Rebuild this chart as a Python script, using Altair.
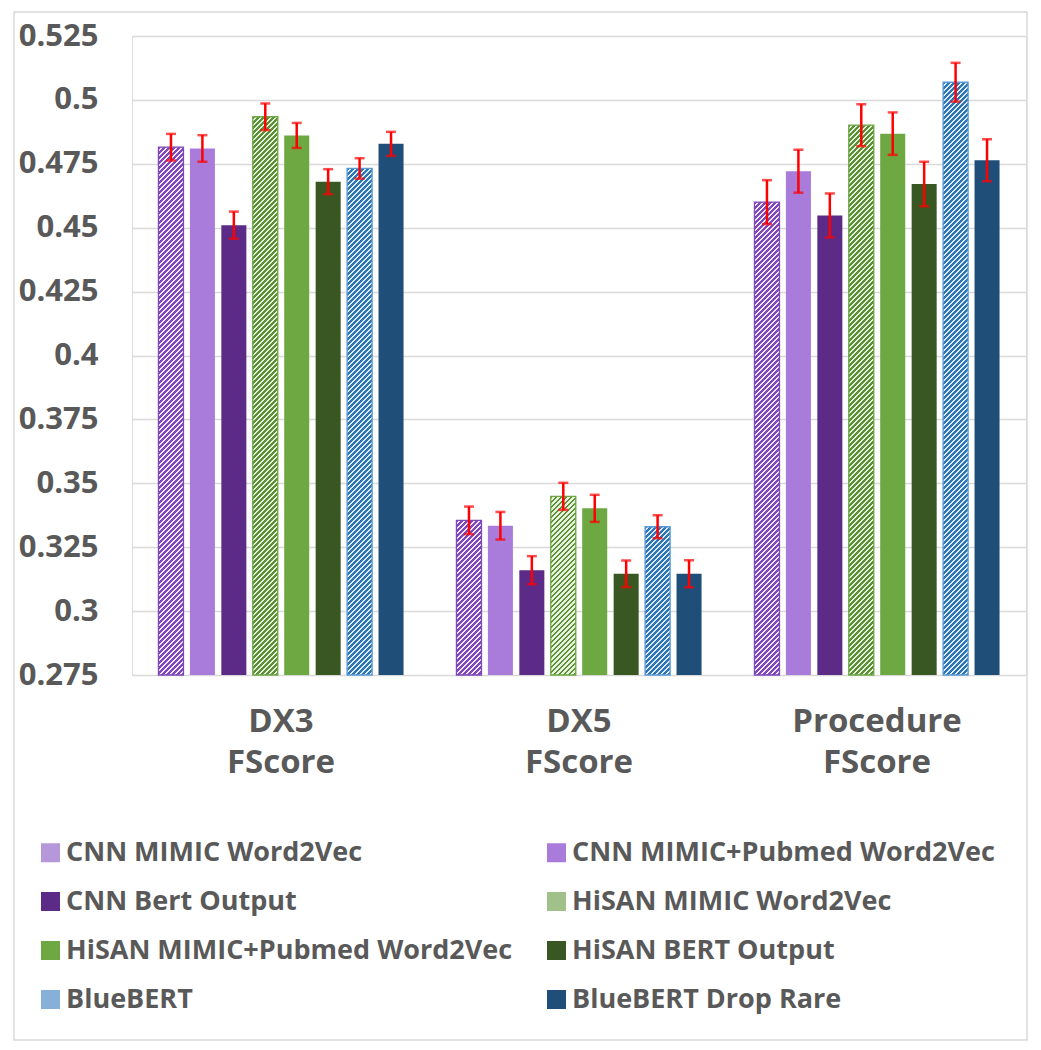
import altair as alt
import pandas as pd

# ---------------- data ----------------
groups = ["DX3 FScore", "DX5 FScore", "Procedure FScore"]
series = [
    "CNN MIMIC Word2Vec", "CNN MIMIC+Pubmed Word2Vec", "CNN Bert Output",
    "HiSAN MIMIC Word2Vec", "HiSAN MIMIC+Pubmed Word2Vec", "HiSAN BERT Output",
    "BlueBERT", "BlueBERT Drop Rare",
]
dx3 = [0.4815, 0.4810, 0.4510, 0.4934, 0.4861, 0.4680, 0.4732, 0.4828]
dx3_err = [0.0052, 0.0052, 0.0053, 0.0052, 0.0049, 0.0049, 0.0040, 0.0047]
dx5 = [0.3355, 0.3334, 0.3160, 0.3449, 0.3402, 0.3146, 0.3330, 0.3146]
dx5_err = [0.0054, 0.0054, 0.0055, 0.0053, 0.0053, 0.0052, 0.0045, 0.0053]
proc = [0.4600, 0.4721, 0.4548, 0.4901, 0.4868, 0.4671, 0.5069, 0.4764]
proc_err = [0.0086, 0.0084, 0.0086, 0.0082, 0.0083, 0.0087, 0.0076, 0.0082]

y_ticks = [0.275, 0.3, 0.325, 0.35, 0.375, 0.4, 0.425, 0.45, 0.475, 0.5, 0.525]

# legend / base colours (hatched series use their average tone)
colors = ["#B697DA", "#A97BDA", "#5C2A87", "#A0C18A",
          "#6DA843", "#385723", "#86B0D7", "#1F4E79"]
# hatch styles: series -> (stripe colour, background colour, border colour)
hatch = {
    "CNN MIMIC Word2Vec": ("#7E48BC", "#F1EAFA", "#7E48BC"),
    "HiSAN MIMIC Word2Vec": ("#5B8F38", "#E6F2DD", "#6DA843"),
    "BlueBERT": ("#2E75B6", "#DEEBF7", "#5B9BD5"),
}

rows = []
for g, vals, errs in zip(groups, [dx3, dx5, proc], [dx3_err, dx5_err, proc_err]):
    for s, v, e in zip(series, vals, errs):
        rows.append(dict(group=g, series=s, value=v, lo=v - e, hi=v + e))
df = pd.DataFrame(rows)

# ---------------- layout ----------------
W, H = 894, 639
YMIN, YMAX = 0.275, 0.525
PI_OUT = 0.156
PI_IN = 0.204
step_out = W / 3.0
band_out = step_out * (1 - PI_OUT)
BAR_W = band_out / 8.0 * (1 - PI_IN)
PERIOD = 5.0       # hatch period (px, along x+y)
STRIPE_FRAC = 0.55

FONT = "Open Sans"
GREY = "#595959"

x_enc = alt.X(
    "group:N", sort=groups,
    scale=alt.Scale(domain=groups, paddingInner=PI_OUT, paddingOuter=PI_OUT / 2),
    axis=alt.Axis(
        title=None, labelAngle=0, labelExpr="split(datum.label, ' ')",
        labelFont=FONT, labelFontSize=33, labelFontWeight="bold", labelColor=GREY,
        labelLineHeight=41, labelPadding=30, ticks=False, tickSize=0,
        domain=False, grid=False,
    ),
)
xo_enc = alt.XOffset(
    "series:N", sort=series,
    scale=alt.Scale(domain=series, paddingInner=PI_IN, paddingOuter=PI_IN / 2),
)
y_scale = alt.Scale(domain=[YMIN, YMAX], nice=False, zero=False)
y_enc = alt.Y(
    "value:Q", scale=y_scale,
    axis=alt.Axis(
        title=None, values=y_ticks, format=".3~f",
        labelFont=FONT, labelFontSize=31, labelFontWeight="bold", labelColor=GREY,
        labelPadding=34, ticks=False, tickSize=0, domain=False,
        grid=True, gridColor="#D9D9D9", gridWidth=1.5,
    ),
)

base = alt.Chart(df)

bars = base.mark_bar().encode(
    x=x_enc,
    xOffset=xo_enc,
    y=y_enc,
    y2=alt.datum(YMIN),
    color=alt.Color(
        "series:N", sort=series,
        scale=alt.Scale(domain=series, range=colors),
        legend=alt.Legend(
            title=None, orient="none", legendX=-95, legendY=803,
            direction="horizontal", columns=2, columnPadding=30, rowPadding=21,
            padding=0,
            symbolType="square", symbolSize=361, symbolStrokeWidth=0,
            symbolOffset=0, labelOffset=2,
            labelFont=FONT, labelFontSize=27, labelFontWeight="bold",
            labelColor=GREY, labelLimit=800,
        ),
    ),
)


def make_gradient(v, stripe, bg):
    h = (v - YMIN) / (YMAX - YMIN) * H
    w = BAR_W
    L = w + h
    s = L / (w * w + h * h)
    stops = []
    k = 0
    while k * PERIOD < L:
        a = round(min(k * PERIOD / L, 1), 5)
        b = round(min((k + STRIPE_FRAC) * PERIOD / L, 1), 5)
        c = round(min((k + 1) * PERIOD / L, 1), 5)
        stops += [
            alt.GradientStop(offset=a, color=stripe),
            alt.GradientStop(offset=b, color=stripe),
            alt.GradientStop(offset=b, color=bg),
            alt.GradientStop(offset=c, color=bg),
        ]
        k += 1
    return alt.LinearGradient(
        gradient="linear", stops=stops, x1=0, y1=0, x2=w * s, y2=h * s
    )


hatch_layers = []
for _, r in df.iterrows():
    if r["series"] not in hatch:
        continue
    stripe, bg, border = hatch[r["series"]]
    layer = base.transform_filter(
        f"datum.series === '{r['series']}' && datum.group === '{r['group']}'"
    ).mark_bar(
        fill=make_gradient(r["value"], stripe, bg), stroke=border, strokeWidth=1.3
    ).encode(x=x_enc, xOffset=xo_enc, y=y_enc, y2=alt.datum(YMIN))
    hatch_layers.append(layer)

err_rule = base.mark_rule(color="#FF0000", strokeWidth=2.5).encode(
    x=x_enc, xOffset=xo_enc,
    y=alt.Y("lo:Q", scale=y_scale), y2="hi:Q",
)
cap_lo = base.mark_tick(color="#FF0000", thickness=2.5, size=10).encode(
    x=x_enc, xOffset=xo_enc, y=alt.Y("lo:Q", scale=y_scale)
)
cap_hi = base.mark_tick(color="#FF0000", thickness=2.5, size=10).encode(
    x=x_enc, xOffset=xo_enc, y=alt.Y("hi:Q", scale=y_scale)
)

frame = alt.Chart(pd.DataFrame({"k": [0]})).mark_rect(
    fillOpacity=0, stroke="#D9D9D9", strokeWidth=1.5
).encode(
    x=alt.value(-118), x2=alt.value(895), y=alt.value(-24), y2=alt.value(1004)
)

chart = alt.layer(
    frame, bars, *hatch_layers, err_rule, cap_lo, cap_hi
).properties(
    width=W, height=H,
    padding={"left": 124, "top": 28, "right": 7, "bottom": 366},
    autosize=alt.AutoSizeParams(type="none"),
    background="white",
).configure_view(stroke=None).configure(font=FONT)

chart.save("out.html", embed_options={"renderer": "svg", "actions": False})
